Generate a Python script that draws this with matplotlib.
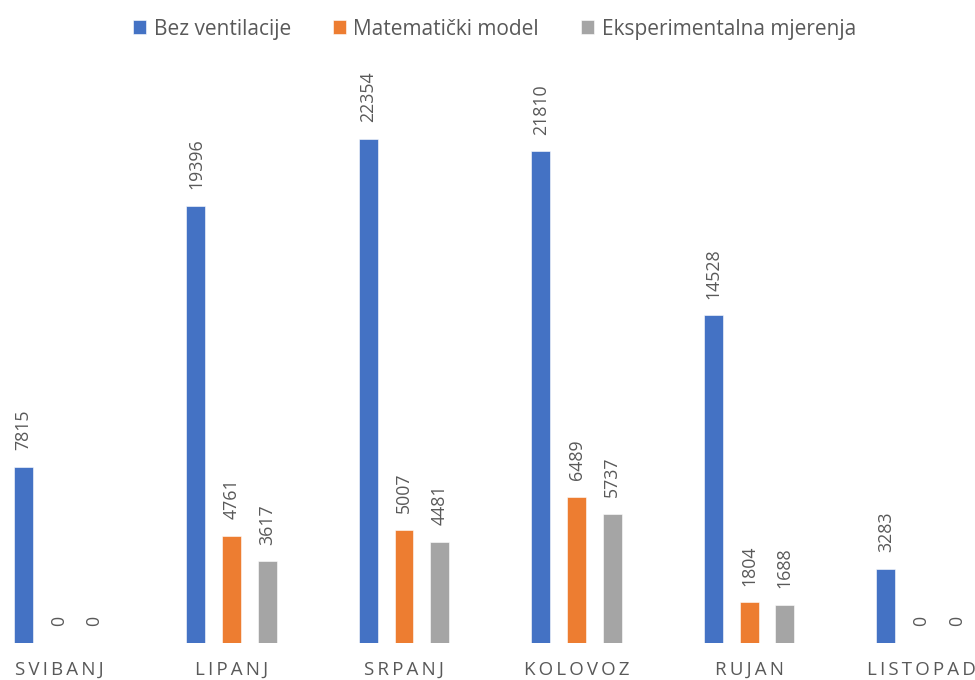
import numpy as np
import matplotlib.pyplot as plt

# === Data ===
months = ['SVIBANJ', 'LIPANJ', 'SRPANJ', 'KOLOVOZ', 'RUJAN', 'LISTOPAD']
bez_ventilacije = [7815, 19396, 22354, 21810, 14528, 3283]
matematicki_model = [0, 4761, 5007, 6489, 1804, 0]
eksperimentalna = [0, 3617, 4481, 5737, 1688, 0]

series_names = ['Bez ventilacije', 'Matematički model', 'Eksperimentalna mjerenja']
colors = ['#4472C4', '#ED7D31', '#A5A5A5']
text_gray = '#595959'

plt.rcParams['font.family'] = ['Open Sans', 'DejaVu Sans']

fig = plt.figure(figsize=(9.75, 6.8), dpi=100)
ax = fig.add_axes([0, 37 / 680, 1, 583 / 680])

x = np.arange(len(months))
offset = 0.206
width = 0.11

for i, (vals, name, c) in enumerate(zip([bez_ventilacije, matematicki_model, eksperimentalna],
                                         series_names, colors)):
    bars = ax.bar(x + (i - 1) * offset, vals, width, color=c, label=name,
                  edgecolor='white', linewidth=0.4)
    ax.bar_label(bars, labels=[str(v) for v in vals], rotation=90, padding=12,
                 color=text_gray, fontsize=12.8)

ax.set_xlim(-0.342, 5.31)
ax.set_ylim(0, 25854)
ax.set_xticks(x)
ax.set_xticklabels(['\u2009'.join(m) for m in months], color=text_gray, fontsize=13.5)
ax.tick_params(axis='x', length=0, pad=13)
ax.set_yticks([])
for s in ax.spines.values():
    s.set_visible(False)

fig.legend(loc='upper center', bbox_to_anchor=(0.507, 1.0), ncol=3, frameon=False,
           handlelength=0.65, handleheight=0.65, handletextpad=0.35, columnspacing=2.0,
           fontsize=15, labelcolor=text_gray)

fig.savefig('out.png', dpi=100)
